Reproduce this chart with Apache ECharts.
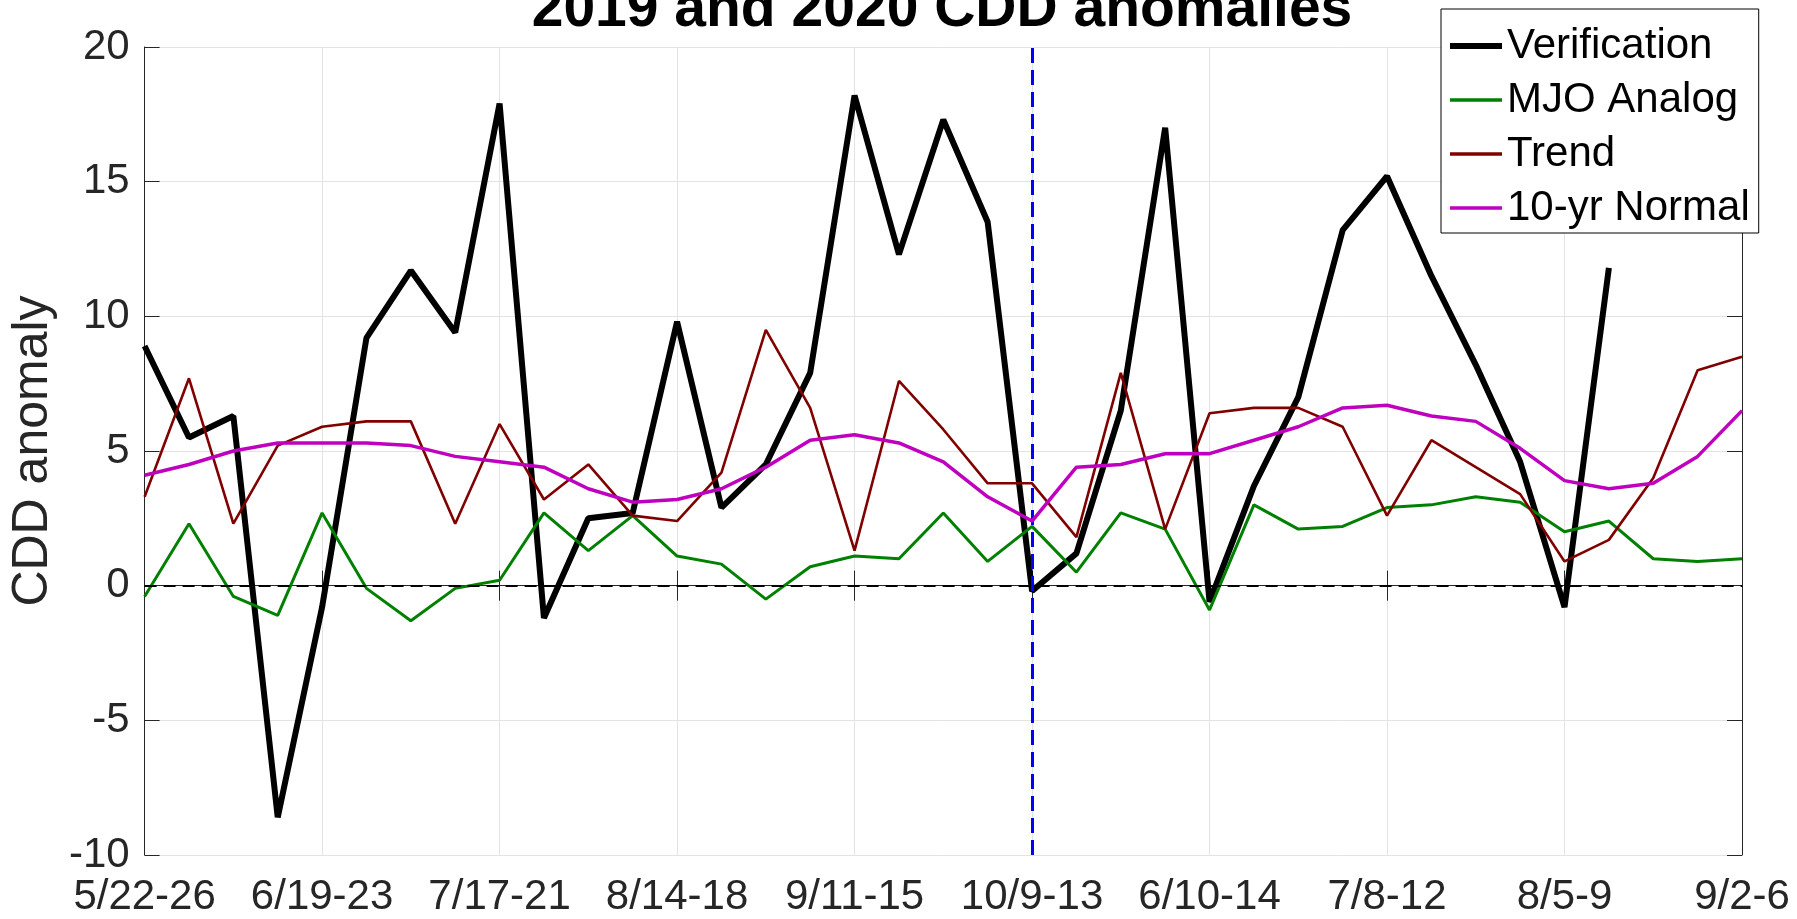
<!DOCTYPE html>
<html>
<head>
<meta charset="utf-8">
<title>2019 and 2020 CDD anomalies</title>
<script src="https://cdn.jsdelivr.net/npm/echarts@6/dist/echarts.min.js"></script>
<style>
  html, body { margin: 0; padding: 0; background: #fff; }
  #chart { width: 1797px; height: 919px; }
</style>
</head>
<body>
<div id="chart"></div>
<script>
// weekly periods, 2019 (to 10/9-13) then 2020
const weeks = [
  '5/22-26', '5/29-6/2', '6/5-9', '6/12-16', '6/19-23', '6/26-30', '7/3-7', '7/10-14',
  '7/17-21', '7/24-28', '7/31-8/4', '8/7-11', '8/14-18', '8/21-25', '8/28-9/1', '9/4-8',
  '9/11-15', '9/18-22', '9/25-29', '10/2-6', '10/9-13',
  '5/20-24', '5/27-31', '6/3-7', '6/10-14', '6/17-21', '6/24-28', '7/1-5',
  '7/8-12', '7/15-19', '7/22-26', '7/29-8/2', '8/5-9', '8/12-16', '8/19-23', '8/26-30', '9/2-6'
]
const verification = [
  8.9, 5.5, 6.3, -8.6, -0.8, 9.2, 11.7, 9.4, 17.9, -1.2, 2.5, 2.7, 9.8, 2.9, 4.5, 7.9,
  18.2, 12.3, 17.3, 13.5, -0.2, 1.2, 6.5, 17.0, -0.6, 3.7, 7.0, 13.2, 15.2, 11.5, 8.2,
  4.6, -0.8, 11.8, null, null, null
]
const mjoAnalog = [
  -0.4, 2.3, -0.4, -1.1, 2.7, -0.1, -1.3, -0.1, 0.2, 2.7, 1.3, 2.6, 1.1, 0.8, -0.5, 0.7,
  1.1, 1.0, 2.7, 0.9, 2.2, 0.5, 2.7, 2.1, -0.9, 3.0, 2.1, 2.2, 2.9, 3.0, 3.3,
  3.1, 2.0, 2.4, 1.0, 0.9, 1.0
]
const trend = [
  3.3, 7.7, 2.3, 5.2, 5.9, 6.1, 6.1, 2.3, 6.0, 3.2, 4.5, 2.6, 2.4, 4.2, 9.5, 6.6,
  1.3, 7.6, 5.8, 3.8, 3.8, 1.8, 7.9, 2.1, 6.4, 6.6, 6.6, 5.9, 2.6, 5.4, 4.4,
  3.4, 0.9, 1.7, 4.0, 8.0, 8.5
]
const normal10yr = [
  4.1, 4.5, 5.0, 5.3, 5.3, 5.3, 5.2, 4.8, 4.6, 4.4, 3.6, 3.1, 3.2, 3.6, 4.4, 5.4,
  5.6, 5.3, 4.6, 3.3, 2.4, 4.4, 4.5, 4.9, 4.9, 5.4, 5.9, 6.6, 6.7, 6.3, 6.1,
  5.1, 3.9, 3.6, 3.8, 4.8, 6.5
]
const yearBreak = '10/9-13'

let chart = null
const FONT = 'Liberation Sans, Arial, sans-serif'
const AX = '#262626'

function getOption() {
  return {
    animation: false,
    backgroundColor: '#fff',
    textStyle: { fontFamily: FONT },
    graphic: [{
      type: 'text',
      x: 942,
      y: 10,
      style: {
        text: '2019 and 2020 CDD anomalies',
        fontFamily: FONT,
        fontWeight: 'bold',
        fontSize: 57,
        fill: '#000',
        align: 'center',
        verticalAlign: 'middle'
      }
    }],
    legend: {
      orient: 'vertical',
      left: 1441,
      top: 9,
      padding: [16, 9, 4, 6],
      itemWidth: 52,
      itemHeight: 20,
      itemGap: 12,
      itemStyle: { opacity: 0 },
      borderColor: '#000',
      borderWidth: 1,
      backgroundColor: '#fff',
      textStyle: { fontFamily: FONT, fontSize: 42, color: '#000', lineHeight: 42 },
      data: [
        { name: 'Verification', lineStyle: { width: 6 } },
        { name: 'MJO Analog', lineStyle: { width: 3.5 } },
        { name: 'Trend', lineStyle: { width: 3.5 } },
        { name: '10-yr Normal', lineStyle: { width: 3.5 } }
      ]
    },
    grid: { left: 143, right: 55, top: 47, bottom: 64 },
    xAxis: [{
      type: 'category',
      data: weeks,
      boundaryGap: false,
      axisLine: { lineStyle: { color: AX, width: 1 } },
      axisTick: { inside: true, length: 15, interval: 3, lineStyle: { color: AX } },
      axisLabel: { interval: 3, fontSize: 42, color: AX, fontFamily: FONT, margin: 21 },
      splitLine: { show: true, interval: 3, lineStyle: { color: '#e3e3e3', width: 1 } }
    }, {
      type: 'category',
      data: weeks,
      boundaryGap: false,
      position: 'top',
      axisLine: { lineStyle: { color: AX, width: 1 } },
      axisTick: { inside: true, length: 15, interval: 3, lineStyle: { color: AX } },
      axisLabel: { show: false },
      splitLine: { show: false }
    }],
    yAxis: [{
      type: 'value',
      min: -10,
      max: 20,
      interval: 5,
      name: 'CDD anomaly',
      nameLocation: 'middle',
      nameGap: 84,
      nameTextStyle: { fontSize: 50, color: AX, fontFamily: FONT },
      axisLine: { show: true, lineStyle: { color: AX, width: 1 } },
      axisTick: { show: true, inside: true, length: 15, lineStyle: { color: AX } },
      axisLabel: { fontSize: 42, color: AX, fontFamily: FONT, margin: 15 },
      splitLine: { show: true, lineStyle: { color: '#e3e3e3', width: 1 } }
    }, {
      type: 'value',
      min: -10,
      max: 20,
      interval: 5,
      position: 'right',
      axisLine: { show: true, lineStyle: { color: AX, width: 1 } },
      axisTick: { show: true, inside: true, length: 15, lineStyle: { color: AX } },
      axisLabel: { show: false },
      splitLine: { show: false }
    }],
    series: [
      {
        name: 'Verification',
        type: 'line',
        data: verification,
        symbol: 'none',
        color: '#000',
        lineStyle: { color: '#000', width: 6 },
        z: 2
      },
      {
        name: 'MJO Analog',
        type: 'line',
        data: mjoAnalog,
        symbol: 'none',
        color: '#008000',
        lineStyle: { color: '#008000', width: 3 },
        z: 3
      },
      {
        name: 'Trend',
        type: 'line',
        data: trend,
        symbol: 'none',
        color: '#800000',
        lineStyle: { color: '#800000', width: 2.6 },
        z: 4
      },
      {
        name: '10-yr Normal',
        type: 'line',
        data: normal10yr,
        symbol: 'none',
        color: '#bf00bf',
        lineStyle: { color: '#bf00bf', width: 3.5 },
        z: 5,
        markLine: {
          silent: true,
          symbol: 'none',
          label: { show: false },
          data: [
            { yAxis: 0, lineStyle: { color: '#000', width: 2, type: [12, 7] } },
            { xAxis: yearBreak, lineStyle: { color: '#0000ff', width: 3, type: [15, 7] } }
          ]
        }
      }
    ]
  }
}

function initChart() {
  chart = echarts.init(document.getElementById('chart'), null, { renderer: 'canvas' })
  chart.setOption(getOption())
  return chart
}

initChart()
</script>
</body>
</html>
